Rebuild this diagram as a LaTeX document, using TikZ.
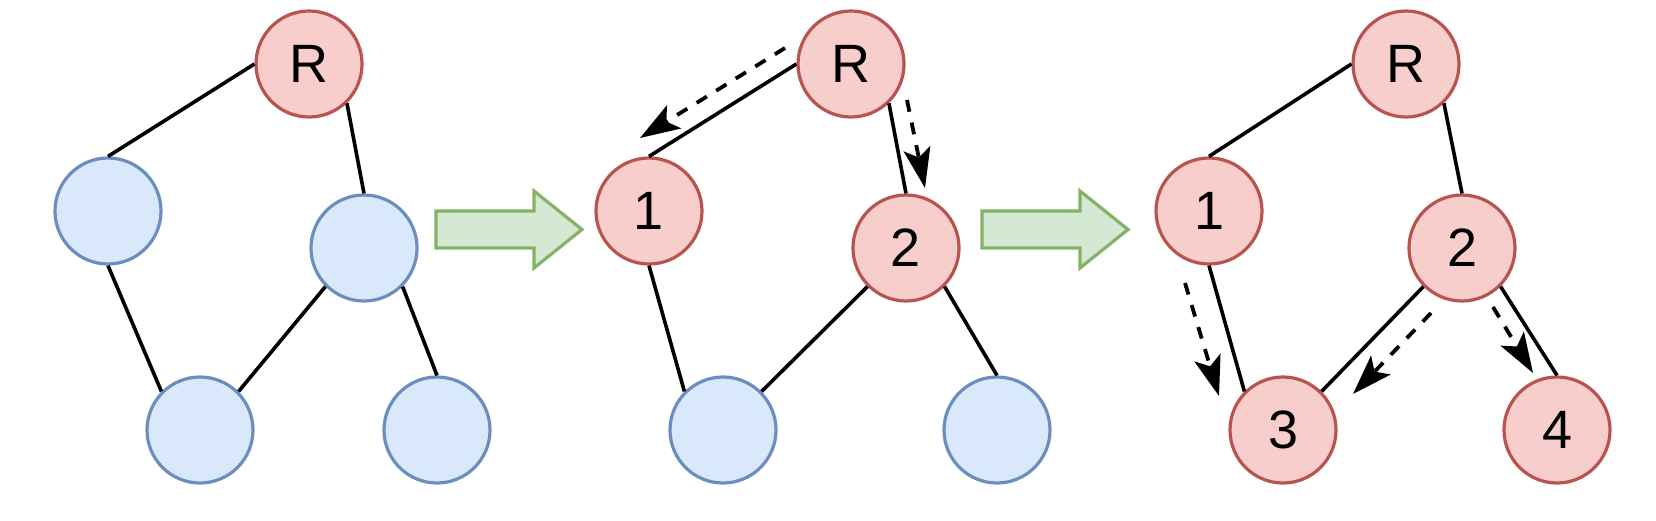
\documentclass[tikz,border=0pt]{standalone}
\usepackage{fontspec}
\setmainfont{Liberation Sans}
\usetikzlibrary{arrows.meta}
\definecolor{visitfill}{HTML}{F8CECC}
\definecolor{visitline}{HTML}{B85450}
\definecolor{openfill}{HTML}{DAE8FC}
\definecolor{openline}{HTML}{6C8EBF}
\definecolor{stagefill}{HTML}{D5E8D4}
\definecolor{stageline}{HTML}{82B366}

\begin{document}
\begin{tikzpicture}[
    x=1pt, y=-1pt,
    vertex/.style={circle, draw, line width=3.2pt, minimum size=106pt, inner sep=0pt, font=\fontsize{54}{60}\selectfont},
    visited/.style={vertex, fill=visitfill, draw=visitline},
    unvisited/.style={vertex, fill=openfill, draw=openline},
    link/.style={line width=3.6pt},
    probe/.style={line width=3.8pt, dash pattern=on 12pt off 11pt, -{Stealth[length=40pt, width=27pt, inset=9pt]}},
    stagearrow/.style={line width=3.2pt, draw=stageline, fill=stagefill, line join=miter},
]
\useasboundingbox (0,0) rectangle (1656,520);

% === Stage 1: only the root ===
\node[visited] (ra) at (309, 64) {R};
\node[unvisited] (aa) at (108, 211) {};
\node[unvisited] (ba) at (364, 248) {};
\node[unvisited] (ca) at (200, 430) {};
\node[unvisited] (da) at (437, 430) {};

\draw[link] (ra.west) -- (aa.north);
\draw[link] (ra.-46) -- (ba.north);
\draw[link] (aa.south) -- (ca.135);
\draw[link] (ba.225) -- (ca.45);
\draw[link] (ba.-45) -- (da.north);

% === Stage 2: root expanded ===
\node[visited] (rb) at (851, 64) {R};
\node[visited] (ab) at (649, 211) {1};
\node[visited] (bb) at (906, 248) {2};
\node[unvisited] (cb) at (723, 430) {};
\node[unvisited] (db) at (997, 430) {};

\draw[link] (rb.west) -- (ab.north);
\draw[link] (rb.-46) -- (bb.north);
\draw[link] (ab.south) -- (cb.135);
\draw[link] (bb.225) -- (cb.45);
\draw[link] (bb.-45) -- (db.north);

\coordinate (pb1s) at (785, 48);
\coordinate (pb1e) at (640, 138);
\coordinate (pb2s) at (907, 100);
\coordinate (pb2e) at (925, 188);
\draw[probe] (pb1s) -- (pb1e);
\draw[probe] (pb2s) -- (pb2e);

% === Stage 3: next level expanded ===
\node[visited] (rc) at (1406, 64) {R};
\node[visited] (ac) at (1209, 211) {1};
\node[visited] (bc) at (1462, 248) {2};
\node[visited] (cc) at (1283, 430) {3};
\node[visited] (dc) at (1557, 430) {4};

\draw[link] (rc.west) -- (ac.north);
\draw[link] (rc.-46) -- (bc.north);
\draw[link] (ac.south) -- (cc.135);
\draw[link] (bc.225) -- (cc.45);
\draw[link] (bc.-45) -- (dc.north);

\coordinate (pc1s) at (1185, 283);
\coordinate (pc1e) at (1219, 396);
\coordinate (pc2s) at (1431, 313);
\coordinate (pc2e) at (1353, 394);
\coordinate (pc3s) at (1493, 307);
\coordinate (pc3e) at (1533, 373);
\draw[probe] (pc1s) -- (pc1e);
\draw[probe] (pc2s) -- (pc2e);
\draw[probe] (pc3s) -- (pc3e);

% === Stage arrows ===
\foreach \x in {436, 982} {
    \draw[stagearrow, shift={(\x,0)}] (0,211) -- (98,211) -- (98,191) -- (146,229.5) -- (98,268) -- (98,248) -- (0,248) -- cycle;
}

\end{tikzpicture}
\end{document}
